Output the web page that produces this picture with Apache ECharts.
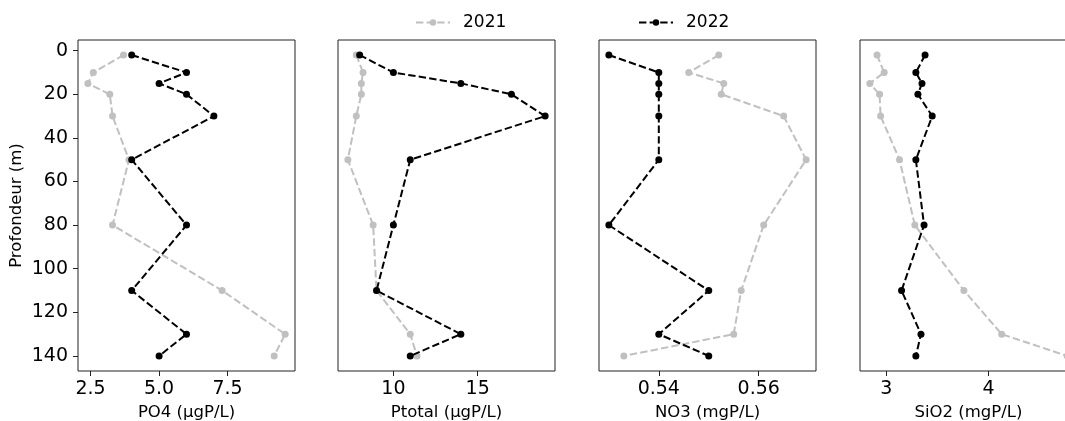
<!DOCTYPE html>
<html>
<head>
<meta charset="utf-8">
<script src="https://cdn.jsdelivr.net/npm/echarts@6/dist/echarts.min.js"></script>
<style>
html,body{margin:0;padding:0;background:#fff;}
#chart{width:1065px;height:421px;}
</style>
</head>
<body>
<div id="chart"></div>
<script>
// Depths (m)
var depths = [2, 10, 15, 20, 30, 50, 80, 110, 130, 140];
// PO4 (µgP/L)
var po4_2021 = [3.7, 2.6, 2.4, 3.2, 3.3, 3.9, 3.3, 7.3, 9.6, 9.2];
var po4_2022 = [4, 6, 5, 6, 7, 4, 6, 4, 6, 5];
// Ptotal (µgP/L)
var ptot_2021 = [7.8, 8.2, 8.1, 8.1, 7.8, 7.3, 8.8, 9.0, 11, 11.4];
var ptot_2022 = [8, 10, 14, 17, 19, 11, 10, 9, 14, 11];
// NO3 (mgP/L)
var no3_2021 = [0.552, 0.546, 0.553, 0.5525, 0.565, 0.5695, 0.561, 0.5565, 0.555, 0.533];
var no3_2022 = [0.53, 0.54, 0.54, 0.54, 0.54, 0.54, 0.53, 0.55, 0.54, 0.55];
// SiO2 (mgP/L)
var sio2_2021 = [2.91, 2.98, 2.84, 2.935, 2.945, 3.13, 3.28, 3.76, 4.13, 4.77];
var sio2_2022 = [3.38, 3.29, 3.35, 3.31, 3.45, 3.29, 3.37, 3.15, 3.34, 3.29];

var yTicks = [0, 20, 40, 60, 80, 100, 120, 140];
var panelNames = ['PO4 (µgP/L)', 'Ptotal (µgP/L)', 'NO3 (mgP/L)', 'SiO2 (mgP/L)'];
var panelTicks = [[2.5, 5.0, 7.5], [10, 15], [0.54, 0.56], [3, 4]];
var panelTickFmt = [function(v){return v.toFixed(1);}, function(v){return String(v);}, function(v){return v.toFixed(2);}, function(v){return String(v);}];
var data2021 = [po4_2021, ptot_2021, no3_2021, sio2_2021];
var data2022 = [po4_2022, ptot_2022, no3_2022, sio2_2022];

function margins(a, b) {
  var all = a.concat(b);
  var mn = Math.min.apply(null, all), mx = Math.max.apply(null, all);
  var r = mx - mn;
  return [mn - 0.05 * r, mx + 0.05 * r];
}
var dr = margins(depths, []);

var FONT = 'DejaVu Sans';
var gridLefts = [78, 338, 599, 860];
var grids = [], xAxes = [], yAxes = [], series = [];

function pairs(vals) { return vals.map(function(v, i){ return [v, depths[i]]; }); }

for (var k = 0; k < 4; k++) {
  grids.push({left: gridLefts[k], top: 40, width: 217, height: 331, show: true, borderColor: '#222', borderWidth: 1, backgroundColor: 'transparent', containLabel: false, outerBoundsMode: 'none'});
  var xr = margins(data2021[k], data2022[k]);
  xAxes.push({
    type: 'value', gridIndex: k, min: xr[0], max: xr[1], position: 'bottom',
    name: panelNames[k], nameLocation: 'middle', nameGap: 29,
    nameTextStyle: {fontFamily: FONT, fontSize: 16.5, color: '#000'},
    axisLine: {show: false, onZero: false},
    axisTick: {show: true, length: 5, lineStyle: {color: '#222'}, customValues: panelTicks[k]},
    axisLabel: {fontFamily: FONT, fontSize: 19, color: '#000', margin: 9, customValues: panelTicks[k], formatter: panelTickFmt[k]},
    splitLine: {show: false}
  });
  yAxes.push({
    type: 'value', gridIndex: k, inverse: true, min: dr[0], max: dr[1], position: 'left',
    name: k === 0 ? 'Profondeur (m)' : '', nameLocation: 'middle', nameGap: 53,
    nameTextStyle: {fontFamily: FONT, fontSize: 16.5, color: '#000'},
    axisLine: {show: false, onZero: false},
    axisTick: {show: k === 0, length: 5, lineStyle: {color: '#222'}, customValues: yTicks},
    axisLabel: {show: k === 0, fontFamily: FONT, fontSize: 19, color: '#000', margin: 10, customValues: yTicks},
    splitLine: {show: false}
  });
  series.push({
    name: '2021', type: 'line', xAxisIndex: k, yAxisIndex: k,
    data: pairs(data2021[k]), symbol: 'circle', symbolSize: 7,
    lineStyle: {color: '#c0c0c0', width: 2, type: [7.4, 3.2]},
    itemStyle: {color: '#c0c0c0'}, animation: false, z: 2
  });
  series.push({
    name: '2022', type: 'line', xAxisIndex: k, yAxisIndex: k,
    data: pairs(data2022[k]), symbol: 'circle', symbolSize: 7,
    lineStyle: {color: '#000', width: 2, type: [7.4, 3.2]},
    itemStyle: {color: '#000'}, animation: false, z: 3
  });
}

var chart = echarts.init(document.getElementById('chart'), null, {renderer: 'canvas'});
chart.setOption({
  backgroundColor: '#fff',
  animation: false,
  legend: [
    {data: ['2021'], left: 410, top: 9, itemWidth: 34, itemHeight: 8, textStyle: {fontFamily: FONT, fontSize: 17, color: '#000', padding: [0, 0, 0, 8]}},
    {data: ['2022'], left: 633, top: 9, itemWidth: 34, itemHeight: 8, textStyle: {fontFamily: FONT, fontSize: 17, color: '#000', padding: [0, 0, 0, 8]}}
  ],
  grid: grids,
  xAxis: xAxes,
  yAxis: yAxes,
  series: series
});
</script>
</body>
</html>
